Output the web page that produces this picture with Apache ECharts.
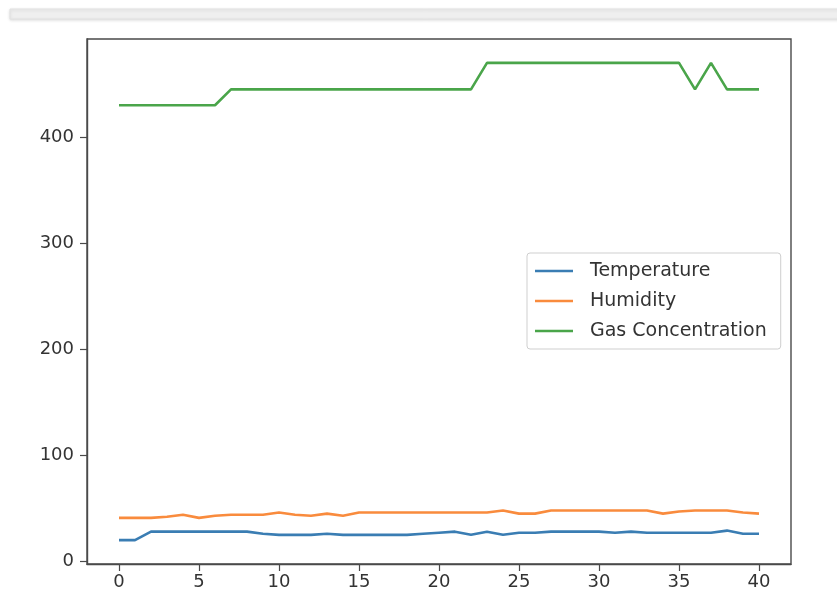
<!DOCTYPE html>
<html>
<head>
<meta charset="utf-8">
<script src="https://cdn.jsdelivr.net/npm/echarts@6/dist/echarts.min.js"></script>
<style>
html,body{margin:0;padding:0;background:#fff;}
#chart{width:837px;height:594px;}
</style>
</head>
<body>
<div id="chart"></div>
<script>
const xValues = [0,1,2,3,4,5,6,7,8,9,10,11,12,13,14,15,16,17,18,19,20,21,22,23,24,25,26,27,28,29,30,31,32,33,34,35,36,37,38,39,40];
const temperature = [20,20,28,28,28,28,28,28,28,26,25,25,25,26,25,25,25,25,25,26,27,28,25,28,25,27,27,28,28,28,28,27,28,27,27,27,27,27,29,26,26];
const humidity = [41,41,41,42,44,41,43,44,44,44,46,44,43,45,43,46,46,46,46,46,46,46,46,46,48,45,45,48,48,48,48,48,48,48,45,47,48,48,48,46,45];
const gas = [430,430,430,430,430,430,430,445,445,445,445,445,445,445,445,445,445,445,445,445,445,445,445,470,470,470,470,470,470,470,470,470,470,470,470,470,445,470,445,445,445];
const xTicks = [0,5,10,15,20,25,30,35,40];
const yTicks = [0,100,200,300,400];
const seriesNames = ['Temperature','Humidity','Gas Concentration'];

const pair = arr => xValues.map((x, i) => [x, arr[i]]);
const chart = echarts.init(document.getElementById('chart'), null, {renderer: 'canvas'});
const font = 'DejaVu Sans';
const axisColor = '#4a4a4a';
chart.setOption({
  animation: false,
  backgroundColor: '#fff',
  graphic: [{
    type: 'rect',
    shape: {x: 10, y: 9, width: 840, height: 10},
    style: {fill: '#efefef', stroke: '#e2e2e2', lineWidth: 1, shadowBlur: 3, shadowColor: 'rgba(0,0,0,0.12)', shadowOffsetY: 1},
    silent: true
  }],
  grid: {left: 87, right: 46, top: 39, bottom: 30, show: true, borderColor: axisColor, borderWidth: 1.4},
  legend: {
    data: seriesNames,
    orient: 'vertical',
    left: 527, top: 253,
    padding: [8, 14, 8, 8],
    itemGap: 10,
    itemWidth: 38, itemHeight: 2.5,
    icon: 'rect',
    backgroundColor: '#fff',
    borderColor: '#cfcfcf', borderWidth: 1, borderRadius: 3,
    textStyle: {fontFamily: font, fontSize: 19, color: '#333', lineHeight: 20, padding: [0,0,0,12]}
  },
  xAxis: {
    type: 'value', min: -2, max: 42,
    splitLine: {show: false},
    axisLine: {show: true, onZero: false, lineStyle: {color: axisColor, width: 1.4}},
    axisTick: {show: true, length: 7, customValues: xTicks, lineStyle: {color: axisColor, width: 1.2}},
    axisLabel: {customValues: xTicks, fontFamily: font, fontSize: 18, color: '#333', margin: 9}
  },
  yAxis: {
    type: 'value', min: -2.5, max: 492.5,
    splitLine: {show: false},
    axisLine: {show: true, onZero: false, lineStyle: {color: axisColor, width: 1.4}},
    axisTick: {show: true, length: 7, customValues: yTicks, lineStyle: {color: axisColor, width: 1.2}},
    axisLabel: {customValues: yTicks, fontFamily: font, fontSize: 18, color: '#333', margin: 13}
  },
  series: [
    {name: seriesNames[0], type: 'line', data: pair(temperature), symbol: 'none', lineStyle: {width: 2.6, color: '#3a7db3'}, itemStyle: {color: '#3a7db3'}},
    {name: seriesNames[1], type: 'line', data: pair(humidity), symbol: 'none', lineStyle: {width: 2.6, color: '#f98b3d'}, itemStyle: {color: '#f98b3d'}},
    {name: seriesNames[2], type: 'line', data: pair(gas), symbol: 'none', lineStyle: {width: 2.6, color: '#4aa54a'}, itemStyle: {color: '#4aa54a'}}
  ]
});
</script>
</body>
</html>
